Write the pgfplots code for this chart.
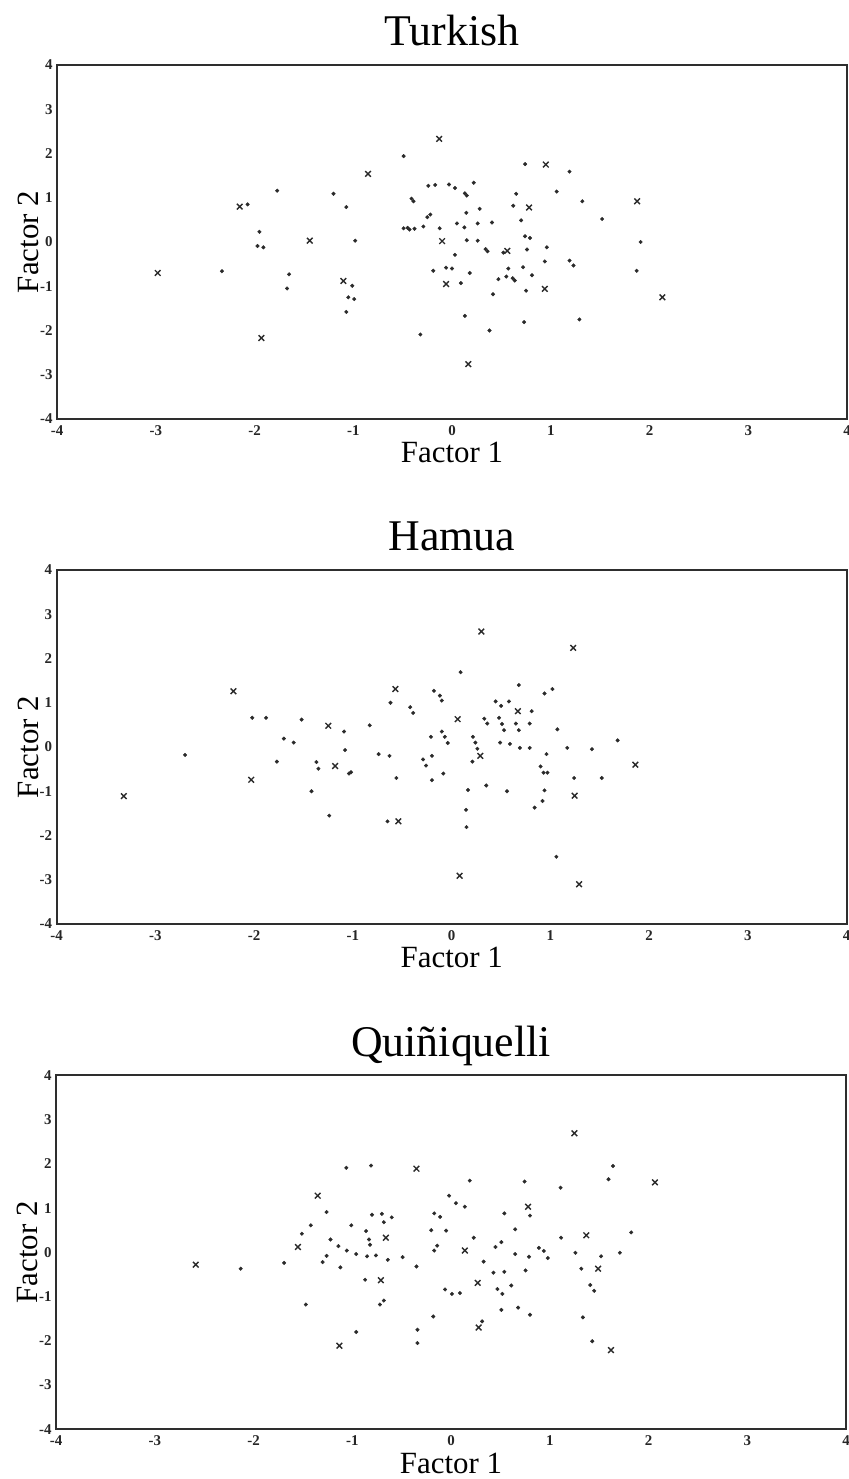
\documentclass[border=0pt]{standalone}
\usepackage{fontspec}
\setmainfont{Liberation Serif}
\usepackage{pgfplots}
\pgfplotsset{compat=1.18}

\definecolor{ink}{HTML}{2A2A2A}

\pgfplotsset{
  factorplot/.style={
    scale only axis, width=790bp, height=354bp,
    xmin=-4, xmax=4, ymin=-4, ymax=4,
    xtick={-4,...,4}, ytick={-4,...,4},
    major tick length=0pt,
    axis line style={line width=2.2bp, draw=black!82},
    /pgf/number format/assume math mode=true,
    tick label style={font=\fontsize{15}{15}\selectfont\bfseries, text=black!85},
    xticklabel style={yshift=-3bp},
    yticklabel style={xshift=-1bp},
    xlabel={Factor 1}, ylabel={Factor 2},
    label style={font=\fontsize{31}{31}\selectfont},
    xlabel style={at={(axis description cs:0.5,-0.124)}, anchor=base},
    ylabel style={at={(axis description cs:-0.0235,0.5)}, anchor=base},
    title style={font=\fontsize{44}{44}\selectfont,
                 at={(axis description cs:0.5,1.037)}, anchor=base},
    clip=false,
  },
  dots/.style={only marks, mark=*, mark size=1.8bp, color=ink},
  crosses/.style={only marks, mark=x, mark size=4bp, color=ink,
                  mark options={line width=1.4bp}},
}

\begin{document}
\begin{tikzpicture}
\path[use as bounding box] (0,0) rectangle (849bp,-1479bp);

% ---------------- Turkish ----------------
\begin{axis}[factorplot, title={Turkish}, at={(57bp,-419bp)}, anchor=south west]
\addplot[dots] table {
x y
-2.33 -0.66
-2.07 0.85
-1.77 1.16
-1.95 0.23
-1.97 -0.09
-1.91 -0.12
-1.65 -0.73
-1.67 -1.05
-1.20 1.09
-1.07 0.79
-0.98 0.03
-1.01 -0.99
-1.05 -1.25
-0.99 -1.29
-1.07 -1.58
-0.49 1.94
-0.41 0.98
-0.39 0.92
-0.49 0.31
-0.45 0.32
-0.43 0.28
-0.38 0.30
-0.29 0.35
-0.32 -2.09
-0.24 1.27
-0.17 1.29
-0.03 1.30
0.03 1.22
0.13 1.10
0.15 1.05
0.22 1.34
-0.25 0.56
-0.22 0.62
0.74 1.76
1.19 1.59
0.65 1.09
1.06 1.14
0.62 0.82
0.28 0.75
0.145 0.66
0.70 0.49
-0.125 0.31
0.05 0.42
0.125 0.33
0.26 0.42
0.405 0.44
0.15 0.04
0.26 0.03
0.34 -0.16
0.36 -0.21
0.52 -0.24
0.74 0.13
0.79 0.09
0.76 -0.17
0.96 -0.12
1.19 -0.42
1.23 -0.53
0.94 -0.44
0.03 -0.29
-0.06 -0.58
0.00 -0.60
-0.19 -0.65
0.18 -0.70
0.09 -0.93
0.57 -0.60
0.72 -0.57
0.47 -0.84
0.55 -0.78
0.615 -0.82
0.635 -0.87
0.81 -0.75
0.75 -1.10
0.415 -1.18
0.13 -1.67
0.38 -2.00
0.73 -1.81
1.32 0.92
1.52 0.52
1.91 0.00
1.87 -0.65
1.29 -1.75
};
\addplot[crosses] table {
x y
-2.98 -0.70
-2.15 0.80
-1.44 0.03
-1.93 -2.17
-0.85 1.54
-1.10 -0.88
-0.13 2.33
0.165 -2.76
0.95 1.75
0.78 0.78
-0.10 0.02
0.56 -0.20
-0.06 -0.95
0.94 -1.06
1.875 0.92
2.13 -1.25
};
\end{axis}

% ---------------- Hamua ----------------
\begin{axis}[factorplot, title={Hamua}, at={(56.7bp,-924bp)}, anchor=south west]
\addplot[dots] table {
x y
-2.70 -0.18
-2.02 0.66
-1.88 0.66
-1.52 0.62
-1.70 0.19
-1.60 0.10
-1.77 -0.33
-1.37 -0.34
-1.35 -0.49
-1.42 -1.00
-1.09 0.35
-1.08 -0.07
-1.04 -0.60
-1.02 -0.57
-1.24 -1.55
-0.83 0.49
-0.74 -0.16
-0.63 -0.20
-0.56 -0.70
-0.62 1.00
-0.42 0.90
-0.39 0.77
-0.65 -1.68
-0.29 -0.28
-0.26 -0.42
-0.21 0.23
0.09 1.69
-0.18 1.27
-0.12 1.16
-0.10 1.05
-0.20 -0.20
-0.10 0.35
-0.07 0.23
-0.04 0.09
-0.20 -0.75
-0.085 -0.60
0.215 0.23
0.24 0.10
0.26 -0.04
0.21 -0.33
0.165 -0.97
0.35 -0.87
0.145 -1.42
0.15 -1.81
0.68 1.40
0.94 1.21
1.02 1.31
0.445 1.03
0.50 0.93
0.58 1.03
0.81 0.81
0.33 0.64
0.36 0.53
0.48 0.66
0.51 0.52
0.53 0.38
0.65 0.53
0.68 0.38
0.79 0.53
1.07 0.40
0.49 0.10
0.59 0.07
0.69 -0.02
0.79 -0.02
1.17 -0.02
0.96 -0.16
0.90 -0.44
0.93 -0.58
0.97 -0.58
0.56 -1.00
0.94 -0.98
0.92 -1.22
0.84 -1.37
1.06 -2.48
1.42 -0.05
1.68 0.15
1.24 -0.70
1.52 -0.70
};
\addplot[crosses] table {
x y
-3.32 -1.11
-2.21 1.26
-2.03 -0.74
-1.25 0.48
-1.18 -0.43
-0.57 1.31
-0.54 -1.68
0.30 2.61
0.06 0.63
0.29 -0.20
0.08 -2.91
0.67 0.81
1.23 2.24
1.86 -0.40
1.245 -1.10
1.29 -3.10
};
\end{axis}

% ---------------- Quiñiquelli ----------------
\begin{axis}[factorplot, title={Quiñiquelli}, at={(56bp,-1429.3bp)}, anchor=south west]
\addplot[dots] table {
x y
-2.13 -0.37
-1.69 -0.24
-1.51 0.42
-1.42 0.61
-1.47 -1.18
-1.26 0.91
-1.22 0.29
-1.26 -0.08
-1.30 -0.22
-1.14 0.14
-1.12 -0.34
-1.01 0.61
-1.055 0.04
-0.96 -0.04
-1.06 1.91
-0.81 1.96
-0.80 0.85
-0.70 0.87
-0.60 0.79
-0.68 0.68
-0.86 0.48
-0.83 0.29
-0.82 0.17
-0.85 -0.09
-0.76 -0.07
-0.64 -0.17
-0.49 -0.11
-0.35 -0.32
-0.87 -0.62
-0.72 -1.18
-0.68 -1.09
-0.96 -1.80
-0.34 -1.75
-0.34 -2.05
0.19 1.62
0.745 1.60
1.11 1.46
-0.02 1.28
0.05 1.11
0.14 1.03
-0.17 0.88
-0.11 0.80
-0.20 0.50
-0.05 0.49
-0.14 0.15
-0.17 0.04
0.23 0.33
0.33 -0.21
-0.06 -0.84
0.01 -0.94
0.09 -0.92
-0.18 -1.45
0.315 -1.56
0.43 -0.46
0.54 -0.44
0.45 0.12
0.51 0.23
0.65 -0.04
0.79 -0.10
0.755 -0.41
0.61 -0.75
0.47 -0.83
0.52 -0.94
0.51 -1.30
0.68 -1.25
0.80 -1.41
0.65 0.52
0.54 0.88
0.80 0.83
0.89 0.10
0.94 0.03
0.98 -0.13
1.115 0.33
1.64 1.95
1.595 1.65
1.825 0.45
1.26 -0.01
1.52 -0.09
1.71 -0.01
1.32 -0.37
1.41 -0.74
1.45 -0.87
1.335 -1.47
1.43 -2.01
};
\addplot[crosses] table {
x y
-2.585 -0.28
-1.55 0.12
-1.35 1.28
-0.35 1.89
-0.66 0.33
-0.71 -0.63
-1.13 -2.11
0.14 0.04
0.27 -0.69
0.28 -1.70
0.78 1.03
1.25 2.69
2.065 1.58
1.37 0.385
1.49 -0.37
1.62 -2.21
};
\end{axis}
\end{tikzpicture}
\end{document}
